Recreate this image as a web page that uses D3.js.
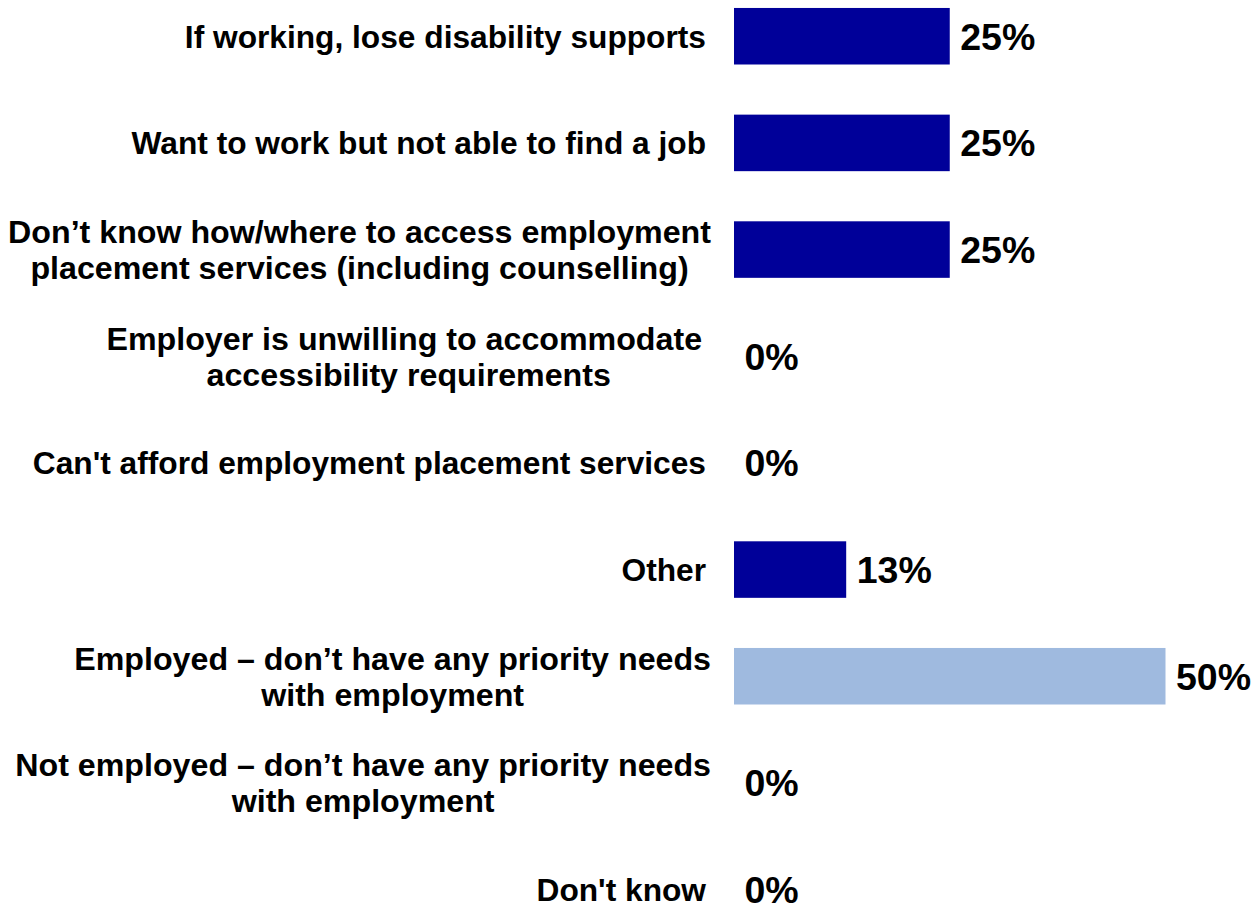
<!DOCTYPE html>
<html>
<head>
<meta charset="utf-8">
<script src="https://cdn.jsdelivr.net/npm/d3@7/dist/d3.min.js"></script>
<style>
  html, body { margin: 0; padding: 0; background: #ffffff; }
  svg { display: block; }
  text { font-family: "Liberation Sans", Arial, sans-serif; font-weight: bold; fill: #000; white-space: pre; }
</style>
</head>
<body>
<svg id="chart" width="1258" height="905"></svg>
<script>
// ---- data ----
const categories = [
  ["If working, lose disability supports"],
  ["Want to work but not able to find a job"],
  ["Don’t know how/where to access employment", "placement services (including counselling)"],
  ["Employer is unwilling to accommodate ", "accessibility requirements"],
  ["Can't afford employment placement services"],
  ["Other"],
  ["Employed – don’t have any priority needs", "with employment"],
  ["Not employed – don’t have any priority needs", "with employment"],
  ["Don't know"]
];
const values = [25, 25, 25, 0, 0, 13, 50, 0, 0];
const valueLabels = ["25%", "25%", "25%", "0%", "0%", "13%", "50%", "0%", "0%"];
const highlighted = [false, false, false, false, false, false, true, false, false];

// ---- layout ----
const svg = d3.select("#chart");
const keys = categories.map((c, i) => i);

const y = d3.scaleBand()
  .domain(keys)
  .range([-17.1, 942.9])
  .paddingInner(0.47)
  .paddingOuter(0.235);

const x = d3.scaleLinear().domain([0, 50]).range([734, 1165.5]);

const darkBlue = "#000099";
const lightBlue = "#9FBADF";

// bars
svg.append("g").selectAll("rect")
  .data(keys)
  .join("rect")
  .attr("x", x(0))
  .attr("y", i => y(i))
  .attr("width", i => x(values[i]) - x(0))
  .attr("height", y.bandwidth())
  .attr("fill", i => highlighted[i] ? lightBlue : darkBlue);

// value labels
const vSize = 37.5;
svg.append("g").selectAll("text")
  .data(keys)
  .join("text")
  .attr("x", i => x(values[i]) + 10.5)
  .attr("y", i => y(i) + y.bandwidth() / 2 + vSize * 0.358)
  .attr("font-size", vSize)
  .text(i => valueLabels[i]);

// category labels
const cSize = 31.7;
const mSize = 32.2;
const lineH = 36;
const labelRight = 706;
const multiRight = 711;
const lg = svg.append("g");
keys.forEach(i => {
  const lines = categories[i];
  const cy = y(i) + y.bandwidth() / 2;
  const n = lines.length;
  if (n === 1) {
    lg.append("text")
      .attr("x", labelRight)
      .attr("y", cy + cSize * 0.358)
      .attr("text-anchor", "end")
      .attr("font-size", cSize)
      .text(lines[0]);
  } else {
    const texts = lines.map((l, k) => lg.append("text")
      .attr("y", cy + (k - (n - 1) / 2) * lineH + mSize * 0.358)
      .attr("text-anchor", "middle")
      .attr("font-size", mSize)
      .text(l));
    const w = d3.max(texts, t => t.node().getComputedTextLength());
    texts.forEach(t => t.attr("x", multiRight - w / 2));
  }
});
</script>
</body>
</html>
